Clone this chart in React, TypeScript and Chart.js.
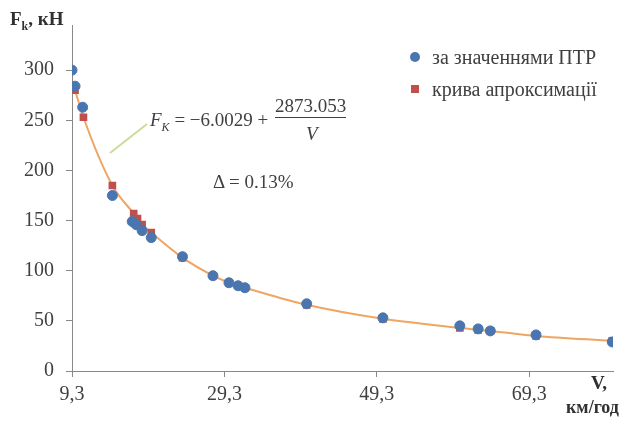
import React, { useEffect, useRef } from "react";
import { Chart, registerables } from "chart.js";

Chart.register(...registerables);

const vPtr = [9.3, 9.7, 10.7, 14.6, 17.2, 17.7, 18.5, 19.7, 23.8, 27.8, 29.9, 31.1, 32.0, 40.1, 50.1, 60.2, 62.6, 64.2, 70.2, 80.2];
const fPtr = [300, 284, 263, 175, 149, 146, 140, 133, 114, 95, 88, 85, 83, 67, 53, 45, 42, 40, 36, 29];

const vApprox = [9.7, 10.8, 14.6, 17.4, 17.9, 18.5, 19.7, 23.8, 27.8, 29.9, 31.1, 32.0, 40.1, 50.1, 60.2, 62.6, 64.2, 70.2, 80.2];
const fApprox = [280, 253, 185, 157, 152, 146, 138, 113, 95, 88, 85, 83, 66, 52, 43, 41, 40, 35, 30];

const xTicks = [9.3, 29.3, 49.3, 69.3];
const yTicks = [0, 50, 100, 150, 200, 250, 300];

const seriesNames = ["за значеннями ПТР", "крива апроксимації"];

const BLUE = "#4A76B0";
const RED = "#C0504D";
const LINE = "#F0A562";
const FONT = "'Liberation Serif', 'Times New Roman', serif";

export default function App() {
  const ref = useRef<HTMLCanvasElement | null>(null);

  useEffect(() => {
    document.body.style.margin = "0";
    const canvas = ref.current;
    if (!canvas) return;
    const chart = new Chart(canvas, {
      type: "scatter",
      data: {
        datasets: [
          {
            label: seriesNames[1],
            data: vApprox.map((v, i) => ({ x: v, y: fApprox[i] })),
            showLine: true,
            borderColor: LINE,
            borderWidth: 2,
            cubicInterpolationMode: "monotone",
            pointStyle: "rect",
            pointRadius: 4,
            pointBackgroundColor: RED,
            pointBorderColor: RED,
            order: 2,
          },
          {
            label: seriesNames[0],
            data: vPtr.map((v, i) => ({ x: v, y: fPtr[i] })),
            showLine: false,
            pointStyle: "circle",
            pointRadius: 5,
            pointBackgroundColor: BLUE,
            pointBorderColor: BLUE,
            order: 1,
          },
        ],
      },
      options: {
        animation: false,
        responsive: false,
        maintainAspectRatio: false,
        layout: { padding: { top: 25, right: 13, left: 0, bottom: 0 } },
        plugins: { legend: { display: false }, tooltip: { enabled: false } },
        scales: {
          x: {
            type: "linear",
            min: 9.3,
            max: 80.3,
            afterBuildTicks: (s: any) => {
              s.ticks = xTicks.map((v) => ({ value: v }));
            },
            afterFit: (s: any) => {
              s.height = 52;
            },
            grid: { drawOnChartArea: false, color: "#888", tickLength: 6, tickColor: "#888" },
            border: { display: true, color: "#888", width: 1 },
            ticks: {
              padding: 6,
              color: "#404040",
              font: { family: FONT, size: 20 },
              maxRotation: 0,
              autoSkip: false,
              callback: (v: any) => String(v).replace(".", ","),
            },
          },
          y: {
            type: "linear",
            min: 0,
            max: 345,
            afterBuildTicks: (s: any) => {
              s.ticks = yTicks.map((v) => ({ value: v }));
            },
            afterFit: (s: any) => {
              s.width = 72;
            },
            grid: { drawOnChartArea: false, color: "#888", tickLength: 6, tickColor: "#888" },
            border: { display: true, color: "#888", width: 1 },
            ticks: {
              padding: 12,
              color: "#404040",
              font: { family: FONT, size: 20 },
            },
          },
        },
      },
    });
    return () => chart.destroy();
  }, []);

  const txt: React.CSSProperties = {
    position: "absolute",
    fontFamily: FONT,
    color: "#404040",
    whiteSpace: "nowrap",
    lineHeight: 1,
  };

  return (
    <div style={{ position: "relative", width: 626, height: 423, background: "#fff", overflow: "hidden" }}>
      <canvas ref={ref} width={626} height={423} style={{ display: "block", width: 626, height: 423 }} />
      {/* axis titles */}
      <div style={{ ...txt, left: 10, top: 9, fontSize: 19, fontWeight: "bold", color: "#303030" }}>
        F<sub style={{ fontSize: 12 }}>k</sub>, кН
      </div>
      <div style={{ ...txt, left: 591, top: 373, fontSize: 19, fontWeight: "bold", color: "#303030" }}>V,</div>
      <div style={{ ...txt, left: 566, top: 398, fontSize: 18, fontWeight: "bold", color: "#303030" }}>км/год</div>
      {/* legend */}
      <div style={{ position: "absolute", left: 410, top: 52, width: 10, height: 10, borderRadius: 5, background: BLUE }} />
      <div style={{ ...txt, left: 432, top: 47, fontSize: 20 }}>{seriesNames[0]}</div>
      <div style={{ position: "absolute", left: 411, top: 85, width: 8, height: 8, background: RED }} />
      <div style={{ ...txt, left: 432, top: 79, fontSize: 20 }}>{seriesNames[1]}</div>
      {/* equation */}
      <svg style={{ position: "absolute", left: 0, top: 0 }} width={626} height={423}>
        <line x1={147} y1={124} x2={110} y2={153} stroke="#C9DC9A" strokeWidth={2} />
      </svg>
      <div style={{ ...txt, left: 150, top: 110, fontSize: 19 }}>
        <i>F</i>
        <sub style={{ fontSize: 12, fontStyle: "italic" }}>K</sub> = −6.0029 +
      </div>
      <div style={{ ...txt, left: 275, top: 96, fontSize: 19, borderBottom: "1px solid #404040", paddingBottom: 2 }}>
        2873.053
      </div>
      <div style={{ ...txt, left: 306, top: 124, fontSize: 19, fontStyle: "italic" }}>V</div>
      <div style={{ ...txt, left: 213, top: 172, fontSize: 19 }}>Δ = 0.13%</div>
    </div>
  );
}
